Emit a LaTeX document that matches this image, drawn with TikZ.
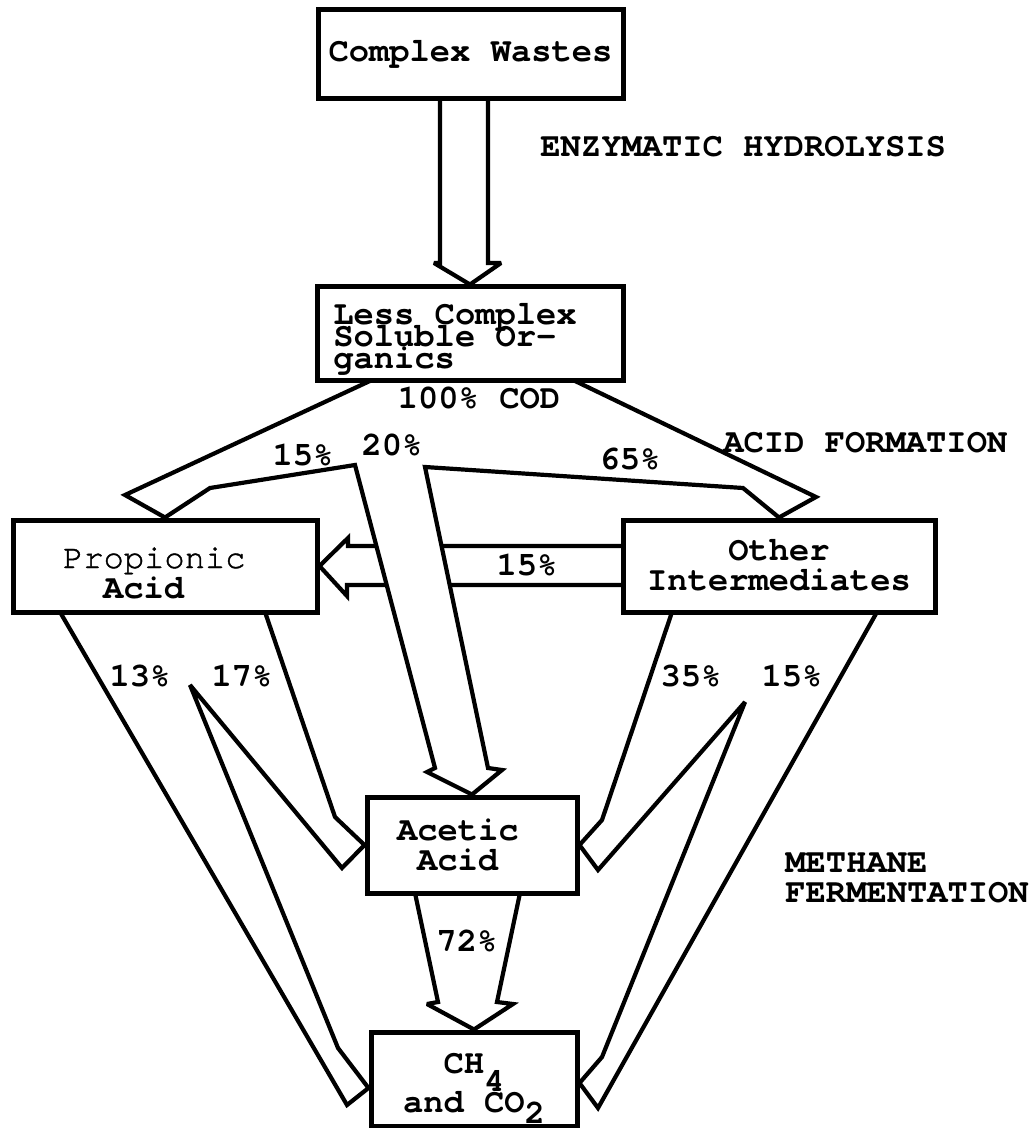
\documentclass[tikz,border=0pt]{standalone}
\usepackage{fontspec}
\newfontfamily\typefont{texgyrecursor-bold.otf}
\newfontfamily\lighttype{texgyrecursor-regular.otf}[FakeBold=1.2]
\newcommand{\tsub}[2]{\raisebox{-#1}{#2}}
\newcommand{\typesize}[1]{\typefont\fontsize{16.9}{#1}\selectfont\lineskiplimit-20pt\relax}
\usetikzlibrary{backgrounds}

\begin{document}
\begin{tikzpicture}[x=0.5pt,y=-0.5pt,
	font=\typesize{15pt},
	box/.style={rectangle,draw,line width=2.5pt,fill=white,inner sep=0pt,align=center},
	flow/.style={draw,line width=2.1pt,fill=white,line join=miter,miter limit=3},
	lbl/.style={inner sep=0pt}
	]
	\useasboundingbox (0,0) rectangle (1036,1128);

	% stages
	\node[box,minimum width=152.5pt,minimum height=44.5pt] (cw) at (470.5,54.5) {Complex Wastes};
	\node[box,minimum width=153pt,minimum height=46.5pt,align=left,
		text height=34.5pt,text depth=0pt,font=\typesize{10.75pt}] (lco) at (470,333.5) {Less Complex\hspace*{15pt}\\Soluble Or-\\ganics};
	\node[box,minimum width=152pt,minimum height=46pt,align=left,text width=152pt,
		text height=2pt,text depth=0pt] (prop) at (165,566) {\hspace*{25pt}{\lighttype Propionic}\\\hspace*{45pt}Acid};
	\node[box,minimum width=156pt,minimum height=46pt,text height=24pt,text depth=0pt] (oth) at (779,566) {Other\\Intermediates};
	\node[box,minimum width=105pt,minimum height=48pt,align=left,text width=105pt,
		text height=0pt,text depth=5pt] (acet) at (472,845) {\hspace*{15pt}Acetic\\\hspace*{25pt}Acid};
	\node[box,minimum width=103pt,minimum height=47pt,text height=33pt,text depth=0pt,
		font=\typesize{19.5pt}] (ch) at (474,1079) {CH\tsub{9pt}{4}\\and CO\tsub{5.5pt}{2}};

	\begin{pgfonlayer}{background}
	\draw[flow] (440,99) -- (440,263) -- (434,263) -- (lco.north) -- (501,263) -- (488,263) -- (488,99);
	\draw[flow] (623,546) -- (348,546) -- (348,538) -- (prop.east) -- (347,596) -- (347,585) -- (623,585);%15%
	\draw[flow] (573,380) -- (816,497) -- (oth.north) -- (743,488) -- (425,467) -- (488,768) -- (502,770)
	-- (acet.north) -- (427,772) -- (435,768) -- (355,465) -- (210,488) -- (prop.north) -- (125,495) -- (372,380);
	\draw[flow] (60,612) -- (347,1105) -- ([yshift=-4.5pt]ch.west) -- (338,1048) -- (190,685) -- (342,868)
	-- (acet.west) -- (335,817) -- (265,612);
	\draw[flow] (672,612) -- (602,820) -- (acet.east) -- (598,870) -- (745,702) -- (602,1057)
	-- ([yshift=-2pt]ch.east) -- (598,1108) -- (877,612);
	\draw[flow] (415,893) -- (438,1002) -- (427,1004) -- (ch.north) -- (513,1004) -- (497,1002) -- (520,893);
	\end{pgfonlayer}

	% shares
	\node[lbl] (cod) at (479,398) {100\% COD};
	\node[lbl] (p15) at (303,455) {15\%};
	\node[lbl] (a20) at (392,445) {20\%};
	\node[lbl] (o65) at (630,459) {65\%};
	\node[lbl] (h15) at (527,565) {15\%};
	\node[lbl] (c13) at (140,676) {13\%};
	\node[lbl] (a17) at (242,676) {17\%};
	\node[lbl] (a35) at (691,676) {35\%};
	\node[lbl] (c15) at (792,676) {15\%};
	\node[lbl] (c72) at (467,941) {72\%};

	\node[lbl,anchor=base west] (hyd) at (540,157) {ENZYMATIC HYDROLYSIS};
	\node[lbl,anchor=base west] (acf) at (723,452) {ACID FORMATION};
	\node[lbl,anchor=north west,align=left] (mfe) at (785,852) {METHANE\\FERMENTATION};
\end{tikzpicture}
\end{document}
